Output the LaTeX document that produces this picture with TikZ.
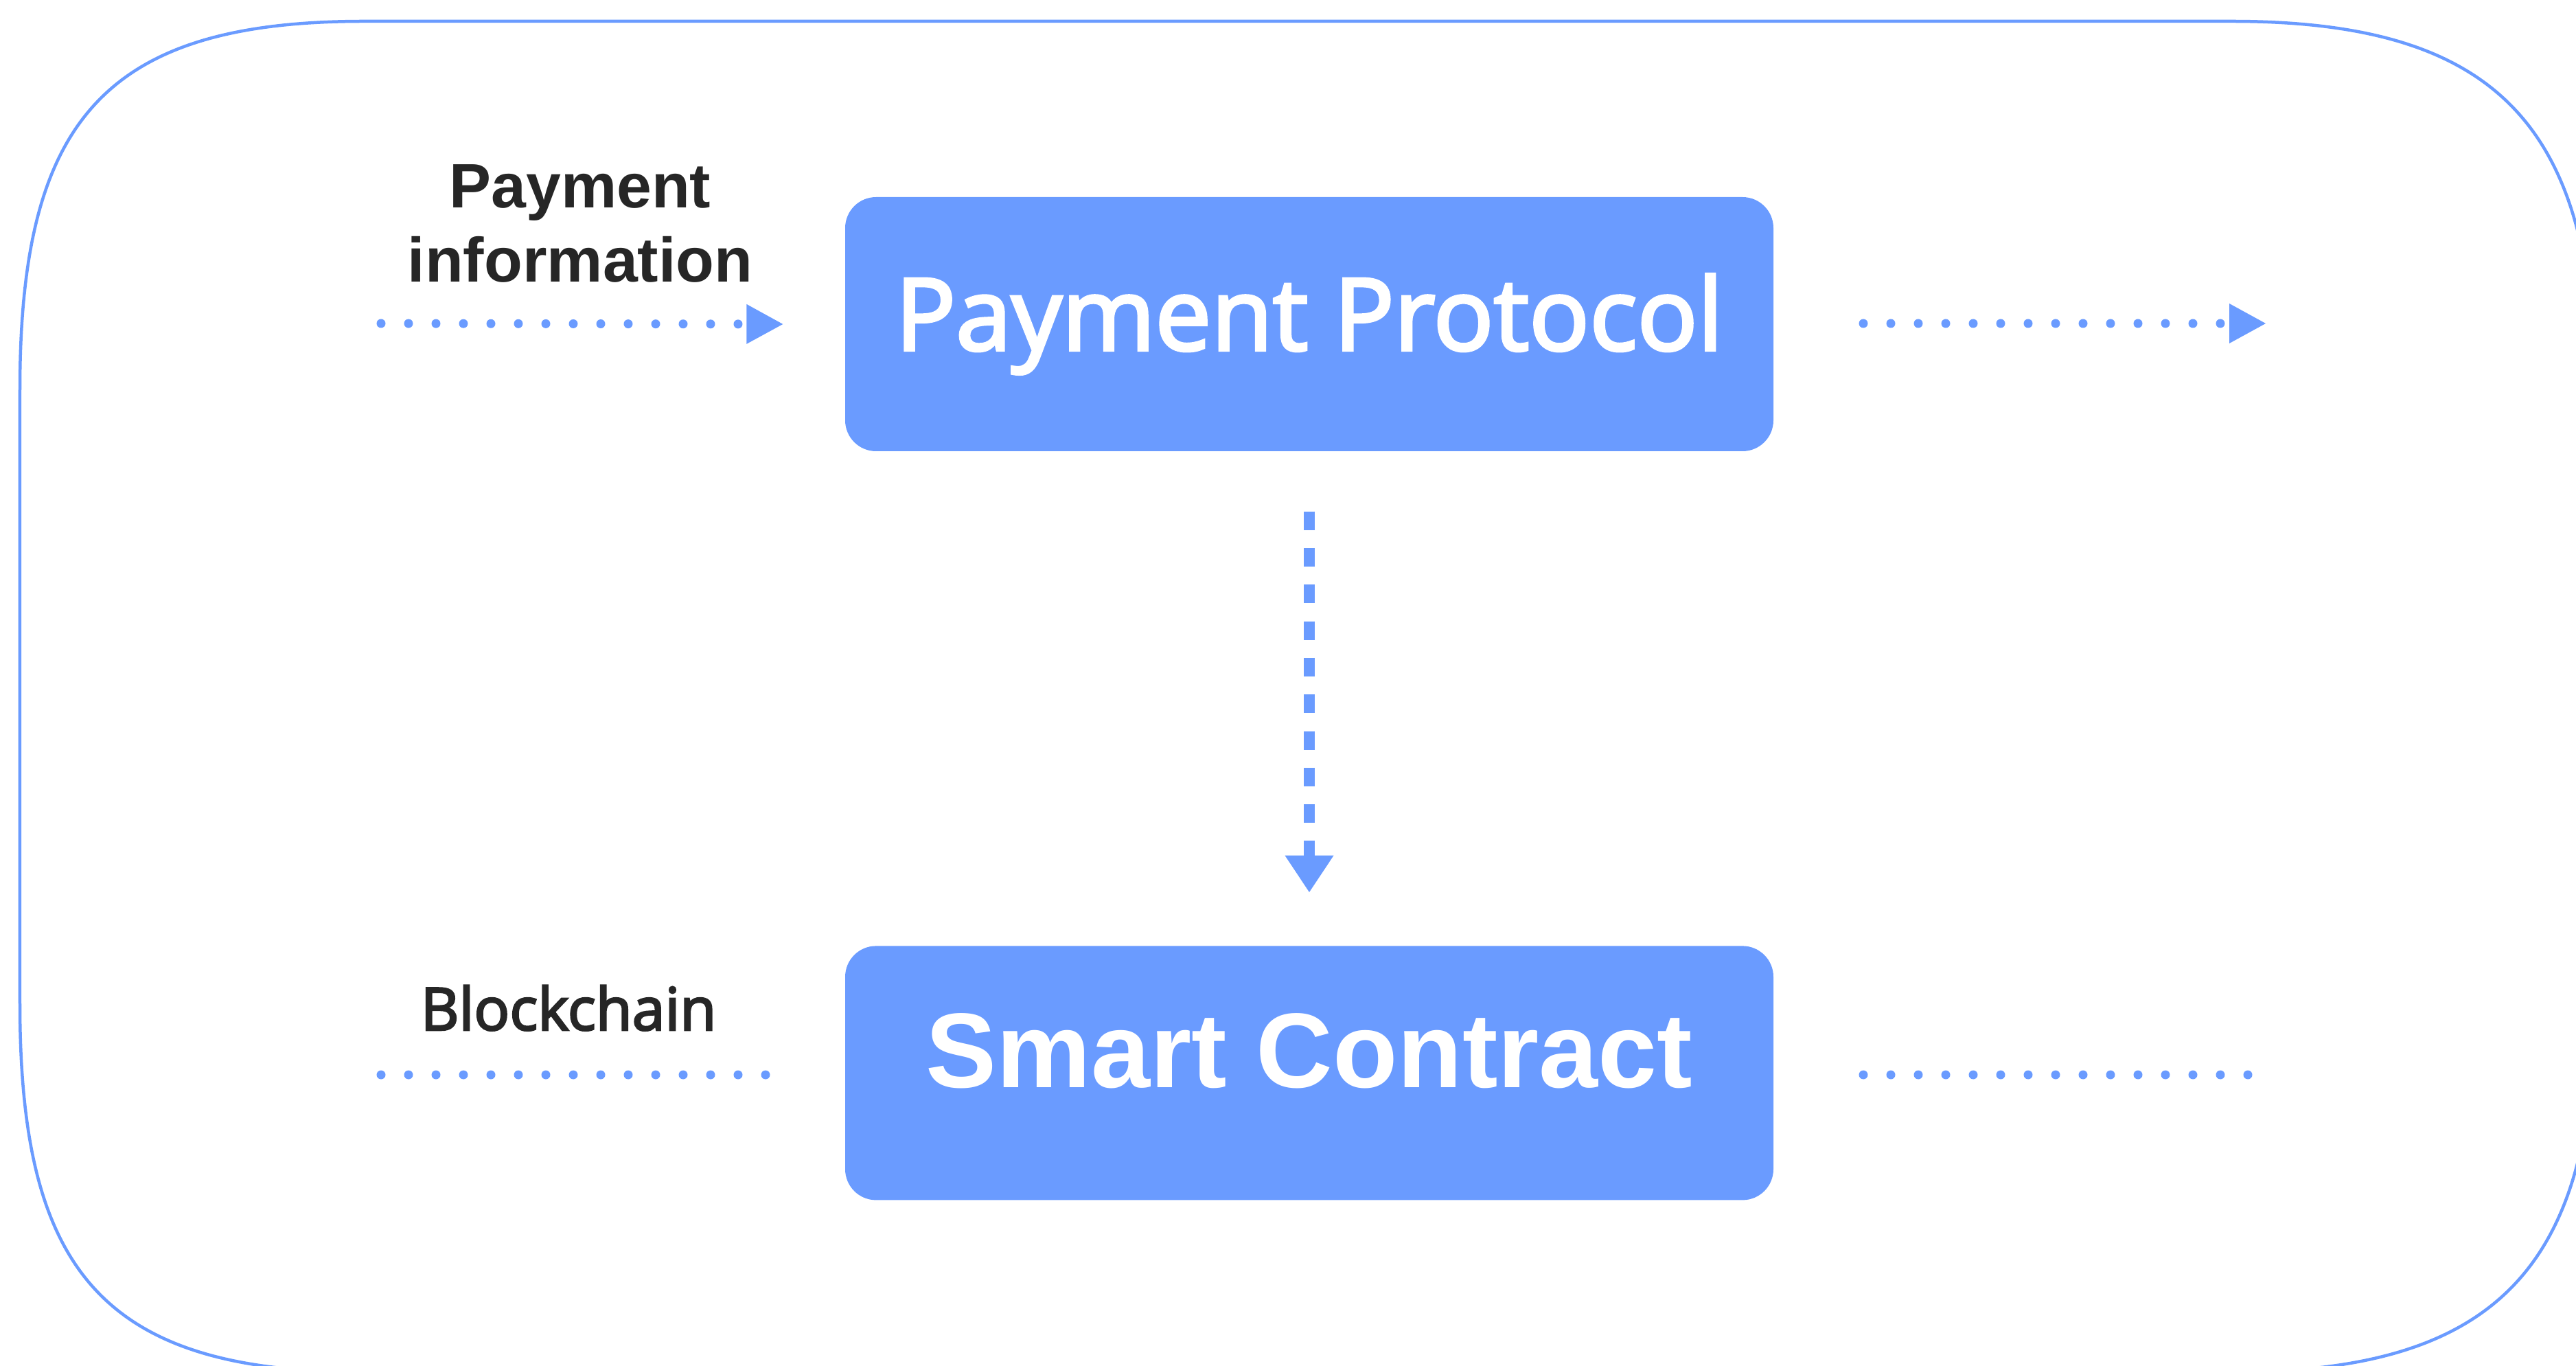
\documentclass[tikz,border=0pt]{standalone}
\usepackage{fontspec}
\setmainfont{Liberation Sans}
\newfontfamily\protofont{Open Sans}[FakeBold=3]
\usetikzlibrary{positioning,arrows.meta}
\definecolor{flowblue}{RGB}{106,155,255}
\definecolor{labelgray}{RGB}{38,38,38}
\tikzset{
  block/.style={fill=flowblue, text=white, rounded corners=0.45cm, minimum width=13.52cm, minimum height=3.7cm, inner sep=0pt},
  dotline/.style={flowblue, line width=0.13cm, line cap=round, dash pattern=on 0pt off 0.4cm},
  dotarrow/.style={dotline, -{Triangle[length=0.54cm,width=0.54cm]}},
  dasharrow/.style={flowblue, line width=0.165cm, dash pattern=on 0.27cm off 0.263cm, -{Triangle[length=0.54cm,width=0.67cm]}},
  tag/.style={text=labelgray, inner sep=0pt}
}
\begin{document}
\begin{tikzpicture}
    \useasboundingbox (0,0) rectangle (37.52,19.88);
    \clip (0,0) rectangle (37.52,19.88);
    % frame
    \draw[flowblue, line width=0.045cm] (0.29,14.2) -- (0.29,5.27) .. controls (0.29,1.37) and (1.5,-0.1) .. (5.3,-0.1) -- (32.5,-0.1) .. controls (36.3,-0.1) and (37.79,1.37) .. (37.79,5.27) -- (37.79,14.2) .. controls (37.79,18.1) and (36.3,19.57) .. (32.5,19.57) -- (5.3,19.57) .. controls (1.5,19.57) and (0.29,18.1) .. (0.29,14.2) -- cycle;
    % boxes
    \node[block, font=\protofont\fontsize{41.5}{49}\selectfont] (proto) at (19.07,15.16) {Payment Protocol};
    \node[block, font=\bfseries\fontsize{44}{53}\selectfont, text depth=0.65cm, below=7.19cm of proto] (contract) {Smart Contract};
    % labels
    \node[tag, font=\bfseries\fontsize{26}{31}\selectfont, align=center, anchor=base] (info) at (8.45,15.77) {Payment\\information};
    \node[tag, font=\protofont\fontsize{24.5}{29}\selectfont, anchor=base] (chain) at (8.28,4.88) {Blockchain};
    % dotted lines
    \coordinate (inL) at (5.55,15.17);
    \coordinate (outR) at (27.14,15.17);
    \coordinate (chainL) at (5.55,4.23);
    \coordinate (chainR) at (27.14,4.23);
    \draw[dotarrow] (inL) -- ([xshift=-0.89cm]proto.west);
    \draw[dotarrow] (outR) -- ++(5.87,0);
    \draw[dotline] (chainL) -- ++(5.63,0);
    \draw[dotline] (chainR) -- ++(5.63,0);
    % down arrow
    \draw[dasharrow] ([yshift=-0.87cm]proto.south) -- ([yshift=0.77cm]contract.north);
\end{tikzpicture}
\end{document}
